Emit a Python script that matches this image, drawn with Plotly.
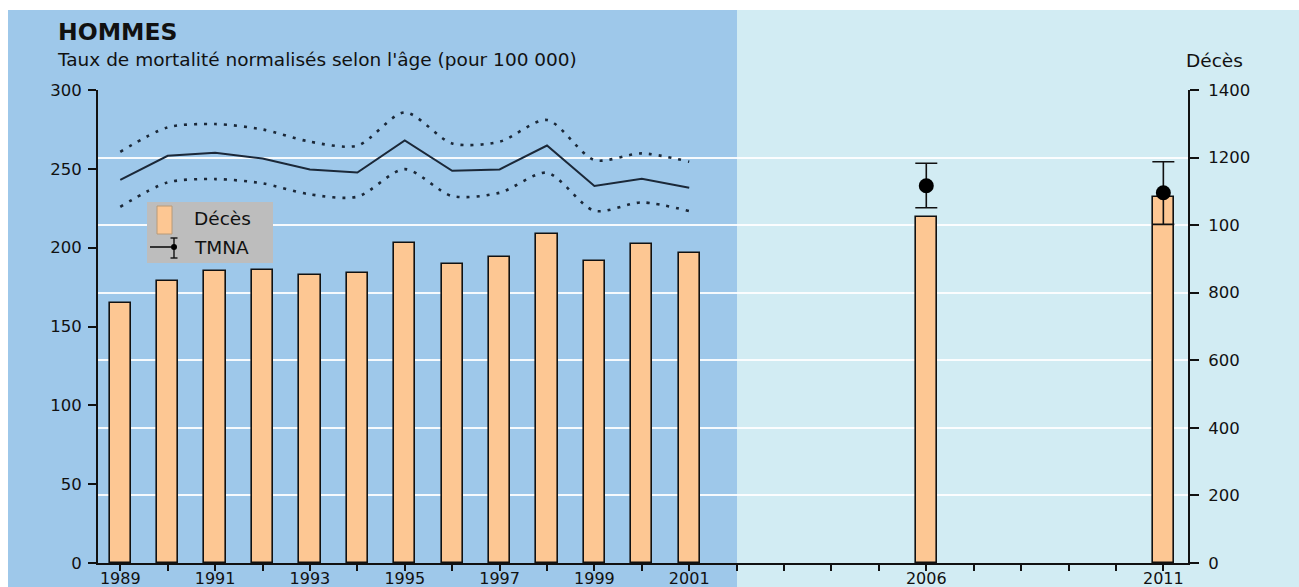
import plotly.graph_objects as go

# ---- data ----
years = [1989, 1990, 1991, 1992, 1993, 1994, 1995, 1996, 1997, 1998, 1999, 2000, 2001]
tmna = [243.0, 258.3, 260.2, 256.5, 249.6, 247.7, 268.0, 248.8, 249.6, 264.8, 239.1, 243.7, 238.0]
tmna_upper = [260.8, 276.3, 278.4, 275.0, 267.2, 264.7, 285.8, 266.1, 267.2, 281.0, 255.6, 259.8, 254.5]
tmna_lower = [225.9, 241.4, 243.5, 240.8, 233.8, 232.3, 249.8, 232.7, 234.8, 247.5, 223.4, 228.7, 223.2]

bar_years = [1989, 1990, 1991, 1992, 1993, 1994, 1995, 1996, 1997, 1998, 1999, 2000, 2001, 2006, 2011]
deces = [770, 834, 864, 867, 852, 858, 947, 885, 905, 973, 894, 944, 917, 1025, 1084]

point_years = [2006, 2011]
point_tmna = [239.3, 234.8]
point_upper = [253.5, 254.5]
point_lower = [225.3, 214.8]

left_ticks = [0, 50, 100, 150, 200, 250, 300]
right_ticks = [0, 200, 400, 600, 800, 1000, 1200, 1400]
right_ticktext = ["0", "200", "400", "600", "800", "100", "1200", "1400"]
x_ticks = list(range(1989, 2012))
x_labels = {1989: "1989", 1991: "1991", 1993: "1993", 1995: "1995", 1997: "1997",
            1999: "1999", 2001: "2001", 2006: "2006", 2011: "2011"}

# ---- page geometry ----
W, H = 1299, 587
ML, MR, MT, MB = 98, 111, 90, 24
PW, PH = W - ML - MR, H - MT - MB

def px(x):
    return (x - ML) / PW

def py(y):
    return (H - MB - y) / PH

FONT = "DejaVu Sans"
INK = "#111111"
LINE = "#1b2838"
PEACH = "#fdc793"
DARK_BG = "#9ec8ea"
LIGHT_BG = "#d2ecf3"

fig = go.Figure()

fig.add_trace(go.Bar(
    x=bar_years, y=deces, width=0.45, yaxis="y",
    marker=dict(color=PEACH, line=dict(color=INK, width=1.6)),
    showlegend=False,
))

fig.add_trace(go.Scatter(
    x=years, y=tmna_upper, yaxis="y2", mode="lines",
    line=dict(color=LINE, width=2.6, dash="3px,7px", shape="spline", smoothing=0.8),
    showlegend=False,
))
fig.add_trace(go.Scatter(
    x=years, y=tmna_lower, yaxis="y2", mode="lines",
    line=dict(color=LINE, width=2.6, dash="3px,7px", shape="spline", smoothing=0.8),
    showlegend=False,
))
fig.add_trace(go.Scatter(
    x=years, y=tmna, yaxis="y2", mode="lines",
    line=dict(color=LINE, width=2),
    showlegend=False,
))

fig.add_trace(go.Scatter(
    x=point_years, y=point_tmna, yaxis="y2", mode="markers",
    marker=dict(color="#000000", size=15),
    error_y=dict(
        type="data", symmetric=False,
        array=[u - v for u, v in zip(point_upper, point_tmna)],
        arrayminus=[v - l for v, l in zip(point_tmna, point_lower)],
        color=INK, thickness=1.6, width=11,
    ),
    showlegend=False,
))

shapes = [
    # panel backgrounds
    dict(type="rect", xref="paper", yref="paper", x0=px(8), x1=px(737),
         y0=py(H + 5), y1=py(10), fillcolor=DARK_BG, line_width=0, layer="below"),
    dict(type="rect", xref="paper", yref="paper", x0=px(737), x1=px(W + 5),
         y0=py(H + 5), y1=py(10), fillcolor=LIGHT_BG, line_width=0, layer="below"),
    # legend box
    dict(type="rect", xref="paper", yref="paper", x0=px(147), x1=px(273),
         y0=py(263), y1=py(202), fillcolor="#bdbdbd", line_width=0, layer="above"),
    dict(type="rect", xref="paper", yref="paper", x0=px(157), x1=px(172),
         y0=py(234), y1=py(206), fillcolor=PEACH, line=dict(color="#b89a78", width=1), layer="above"),
    dict(type="line", xref="paper", yref="paper", x0=px(150), x1=px(171),
         y0=py(247), y1=py(247), line=dict(color=INK, width=1.6), layer="above"),
    dict(type="line", xref="paper", yref="paper", x0=px(174), x1=px(174),
         y0=py(238), y1=py(258), line=dict(color=INK, width=1.4), layer="above"),
    dict(type="line", xref="paper", yref="paper", x0=px(170.5), x1=px(177.5),
         y0=py(238), y1=py(238), line=dict(color=INK, width=1.4), layer="above"),
    dict(type="line", xref="paper", yref="paper", x0=px(170.5), x1=px(177.5),
         y0=py(258), y1=py(258), line=dict(color=INK, width=1.4), layer="above"),
    dict(type="circle", xref="paper", yref="paper", x0=px(171), x1=px(177),
         y0=py(250), y1=py(244), fillcolor="#000000", line_width=0, layer="above"),
]

annotations = [
    dict(text="<b>HOMMES</b>", xref="paper", yref="paper", x=px(56), y=py(32),
         xanchor="left", yanchor="middle", showarrow=False,
         font=dict(family=FONT, size=23.5, color=INK)),
    dict(text="Taux de mortalité normalisés selon l'âge (pour 100 000)", xref="paper", yref="paper",
         x=px(55), y=py(60), xanchor="left", yanchor="middle", showarrow=False,
         font=dict(family=FONT, size=18.5, color=INK)),
    dict(text="Décès", xref="paper", yref="paper", x=px(1184), y=py(61),
         xanchor="left", yanchor="middle", showarrow=False,
         font=dict(family=FONT, size=18.5, color=INK)),
    dict(text="Décès", xref="paper", yref="paper", x=px(192), y=py(218),
         xanchor="left", yanchor="middle", showarrow=False,
         font=dict(family=FONT, size=18.5, color=INK)),
    dict(text="TMNA", xref="paper", yref="paper", x=px(192), y=py(247),
         xanchor="left", yanchor="middle", showarrow=False,
         font=dict(family=FONT, size=18.5, color=INK)),
]

fig.update_layout(
    width=W, height=H,
    margin=dict(l=ML, r=MR, t=MT, b=MB, pad=0, autoexpand=False),
    paper_bgcolor="white",
    plot_bgcolor="rgba(0,0,0,0)",
    font=dict(family=FONT, size=16, color=INK),
    bargap=0,
    shapes=shapes,
    annotations=annotations,
    xaxis=dict(
        range=[1988.53, 2011.52],
        tickmode="array", tickvals=x_ticks,
        ticktext=[x_labels.get(y, "") for y in x_ticks],
        ticks="outside", ticklen=6, tickwidth=1.6, tickcolor=INK,
        ticklabelstandoff=-6,
        showline=True, linecolor=INK, linewidth=1.8,
        showgrid=False, zeroline=False, automargin=False,
        tickfont=dict(family=FONT, size=16, color=INK),
        fixedrange=True,
    ),
    yaxis=dict(
        side="right", range=[0, 1400],
        tickmode="array", tickvals=right_ticks, ticktext=right_ticktext,
        ticks="outside", ticklen=9, tickwidth=1.6, tickcolor=INK,
        ticklabelstandoff=6,
        showline=True, linecolor=INK, linewidth=1.8,
        showgrid=True, gridcolor="rgba(255,255,255,0.9)", gridwidth=2.2,
        zeroline=False, automargin=False,
        tickfont=dict(family=FONT, size=16.5, color=INK),
        fixedrange=True,
    ),
    yaxis2=dict(
        overlaying="y", side="left", range=[0, 300],
        tickmode="array", tickvals=left_ticks,
        ticks="outside", ticklen=8, tickwidth=1.6, tickcolor=INK,
        ticklabelstandoff=3,
        showline=True, linecolor=INK, linewidth=1.8,
        showgrid=False, zeroline=False, automargin=False,
        tickfont=dict(family=FONT, size=16.5, color=INK),
        fixedrange=True,
    ),
)

fig.write_html("out.html", config={"displayModeBar": False})
